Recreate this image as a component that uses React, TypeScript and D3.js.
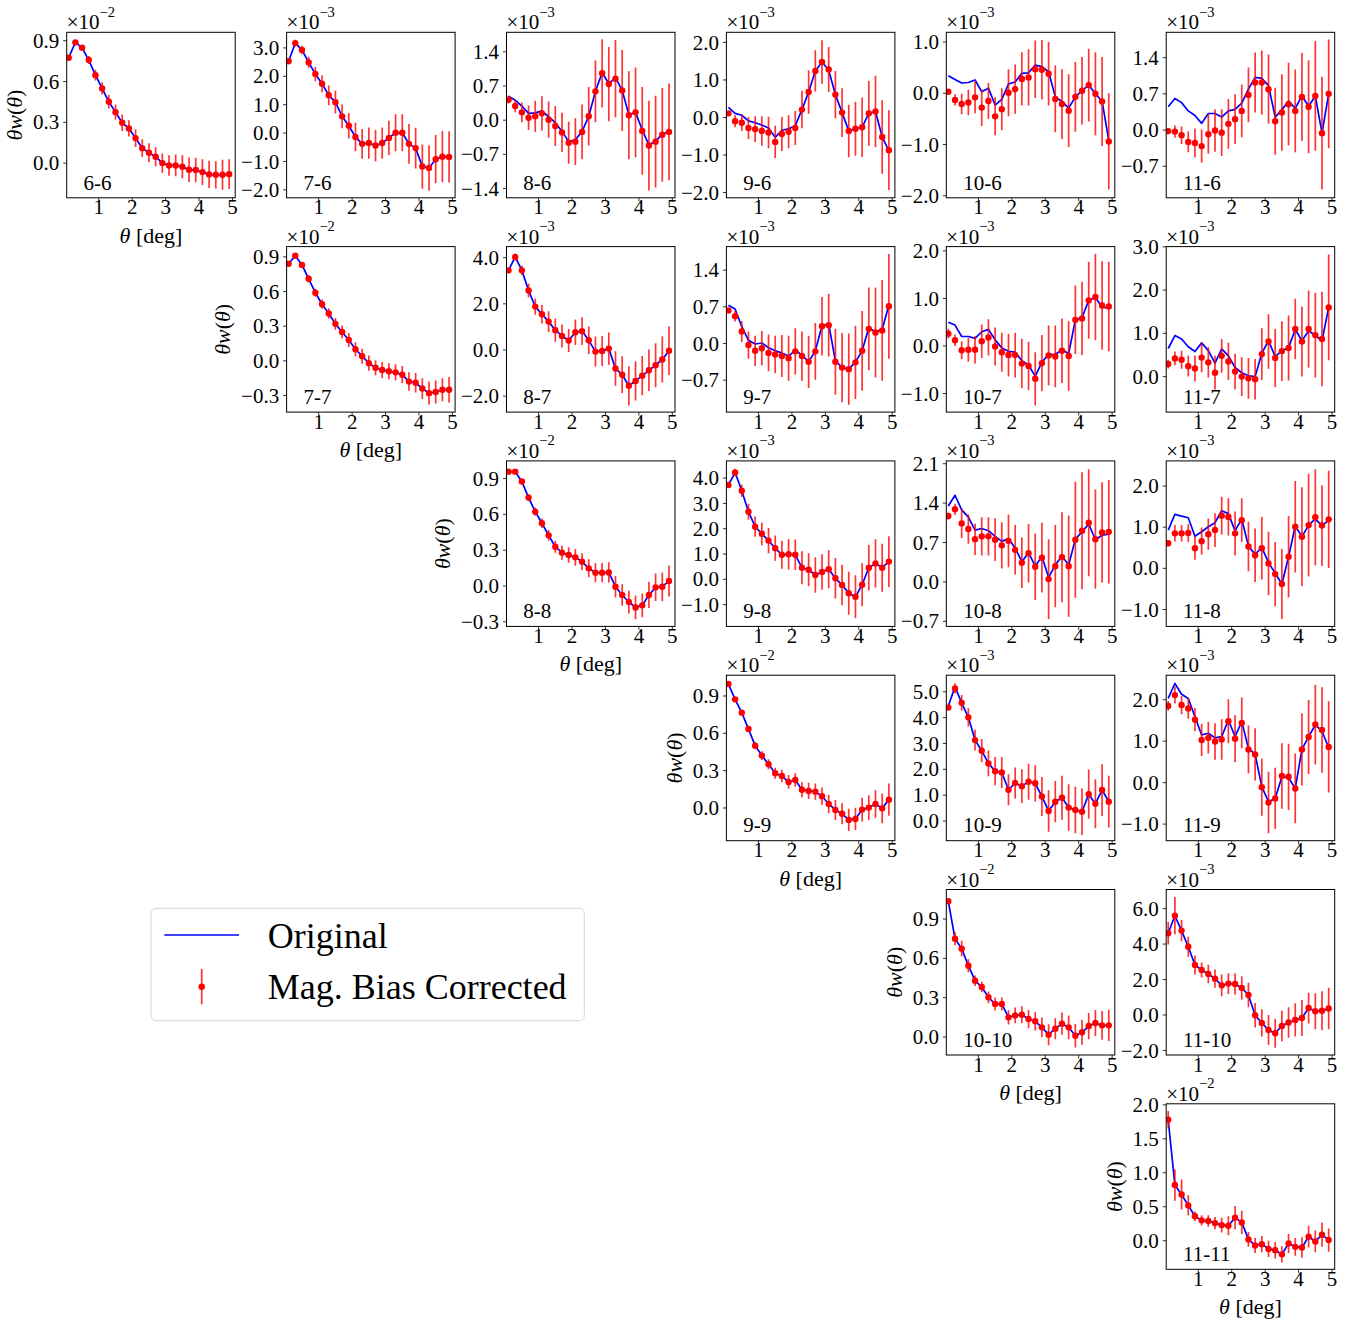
import React from "react";
import * as d3 from "d3";

// ---------- data ----------
const THETA = [0.1, 0.3, 0.5, 0.7, 0.9, 1.1, 1.3, 1.5, 1.7, 1.9, 2.1, 2.3, 2.5, 2.7, 2.9, 3.1, 3.3, 3.5, 3.7, 3.9, 4.1, 4.3, 4.5, 4.7, 4.9];
const X_TICKS = [1, 2, 3, 4, 5];
const BINS = [6, 7, 8, 9, 10, 11];

// values in units of 10^exp
const corr66 = [0.775, 0.888, 0.848, 0.758, 0.647, 0.549, 0.451, 0.375, 0.297, 0.255, 0.184, 0.11, 0.076, 0.047, 0.0, -0.017, -0.017, -0.027, -0.049, -0.051, -0.066, -0.083, -0.086, -0.086, -0.081];
const err66 = [0.01, 0.012, 0.02, 0.03, 0.04, 0.045, 0.05, 0.055, 0.06, 0.06, 0.065, 0.065, 0.07, 0.07, 0.07, 0.075, 0.08, 0.085, 0.09, 0.09, 0.095, 0.1, 0.1, 0.11, 0.11];
const orig66 = corr66;

const corr76 = [2.53, 3.17, 2.93, 2.49, 2.08, 1.74, 1.33, 1.09, 0.59, 0.26, -0.14, -0.38, -0.35, -0.44, -0.35, -0.17, 0.01, 0.01, -0.38, -0.53, -1.18, -1.23, -0.92, -0.83, -0.84];
const err76 = [0.08, 0.12, 0.15, 0.2, 0.25, 0.3, 0.35, 0.4, 0.42, 0.45, 0.5, 0.52, 0.55, 0.55, 0.55, 0.6, 0.65, 0.65, 0.7, 0.72, 0.78, 0.8, 0.85, 0.9, 0.9];
const orig76 = corr76;

const corr86 = [0.42, 0.29, 0.16, 0.05, 0.08, 0.14, 0.01, -0.12, -0.25, -0.46, -0.44, -0.24, 0.08, 0.59, 0.96, 0.74, 0.85, 0.61, 0.1, 0.16, -0.22, -0.52, -0.44, -0.3, -0.24];
const orig86 = [0.49, 0.41, 0.29, 0.14, 0.15, 0.19, 0.07, -0.05, -0.23, -0.44, -0.4, -0.23, 0.08, 0.59, 0.97, 0.75, 0.87, 0.61, 0.11, 0.16, -0.2, -0.51, -0.43, -0.29, -0.23];
const err86 = [0.08, 0.13, 0.2, 0.25, 0.32, 0.35, 0.37, 0.41, 0.4, 0.43, 0.48, 0.56, 0.6, 0.63, 0.7, 0.76, 0.79, 0.83, 0.9, 0.92, 0.9, 0.92, 0.94, 0.96, 0.99];

const corr96 = [0.11, -0.1, -0.14, -0.28, -0.31, -0.36, -0.4, -0.65, -0.44, -0.38, -0.28, 0.21, 0.68, 1.24, 1.48, 1.28, 0.61, 0.13, -0.36, -0.3, -0.26, 0.11, 0.16, -0.52, -0.87];
const orig96 = [0.27, 0.11, 0.06, -0.09, -0.14, -0.2, -0.28, -0.53, -0.34, -0.3, -0.22, 0.21, 0.68, 1.24, 1.48, 1.26, 0.61, 0.13, -0.36, -0.3, -0.26, 0.11, 0.16, -0.52, -0.89];
const err96 = [0.05, 0.16, 0.22, 0.29, 0.34, 0.39, 0.42, 0.43, 0.45, 0.44, 0.45, 0.5, 0.58, 0.55, 0.58, 0.6, 0.63, 0.65, 0.7, 0.72, 0.79, 0.86, 0.95, 0.98, 1.06];

const corr106 = [0.03, -0.13, -0.21, -0.18, -0.08, -0.28, -0.15, -0.45, -0.31, 0.01, 0.08, 0.28, 0.31, 0.47, 0.46, 0.38, -0.11, -0.21, -0.34, -0.07, 0.05, 0.16, -0.01, -0.16, -0.94];
const orig106 = [0.34, 0.27, 0.2, 0.21, 0.26, 0.03, 0.1, -0.23, -0.12, 0.18, 0.22, 0.39, 0.4, 0.55, 0.52, 0.42, -0.07, -0.16, -0.29, -0.07, 0.05, 0.16, -0.01, -0.16, -0.92];
const err106 = [0.04, 0.11, 0.2, 0.25, 0.31, 0.36, 0.35, 0.37, 0.41, 0.46, 0.48, 0.52, 0.55, 0.56, 0.58, 0.62, 0.65, 0.68, 0.71, 0.68, 0.66, 0.71, 0.81, 0.87, 0.94];

const corr116 = [-0.02, -0.03, -0.1, -0.23, -0.25, -0.31, -0.08, -0.01, -0.05, 0.12, 0.21, 0.37, 0.68, 0.92, 0.92, 0.79, 0.17, 0.34, 0.5, 0.37, 0.64, 0.45, 0.66, -0.06, 0.7];
const orig116 = [0.45, 0.61, 0.53, 0.37, 0.28, 0.13, 0.32, 0.32, 0.25, 0.37, 0.4, 0.52, 0.79, 1.02, 1.0, 0.86, 0.25, 0.39, 0.56, 0.42, 0.66, 0.46, 0.66, -0.06, 0.7];
const err116 = [0.06, 0.12, 0.17, 0.2, 0.28, 0.32, 0.38, 0.41, 0.45, 0.48, 0.48, 0.51, 0.53, 0.58, 0.62, 0.67, 0.65, 0.74, 0.8, 0.8, 0.85, 0.9, 1.06, 1.09, 1.05];

const corr77 = [0.84, 0.91, 0.83, 0.71, 0.59, 0.49, 0.41, 0.32, 0.25, 0.18, 0.1, 0.04, -0.02, -0.06, -0.08, -0.09, -0.1, -0.12, -0.18, -0.19, -0.24, -0.28, -0.27, -0.25, -0.25];
const err77 = [0.01, 0.015, 0.02, 0.03, 0.035, 0.04, 0.045, 0.05, 0.055, 0.06, 0.06, 0.065, 0.065, 0.065, 0.07, 0.07, 0.07, 0.075, 0.08, 0.085, 0.09, 0.1, 0.1, 0.1, 0.11];
const orig77 = corr77;

const corr87 = [3.45, 4.03, 3.45, 2.58, 1.88, 1.55, 1.23, 0.86, 0.61, 0.41, 0.77, 0.82, 0.42, -0.07, -0.04, 0.06, -0.8, -1.07, -1.55, -1.34, -1.11, -0.88, -0.66, -0.41, -0.03];
const err87 = [0.1, 0.15, 0.2, 0.3, 0.35, 0.4, 0.45, 0.5, 0.5, 0.5, 0.55, 0.6, 0.6, 0.65, 0.65, 0.7, 0.75, 0.8, 0.85, 0.85, 0.85, 0.9, 0.95, 1.0, 1.05];
const orig87 = corr87;

const corr97 = [0.63, 0.52, 0.23, -0.03, -0.14, -0.09, -0.18, -0.21, -0.24, -0.28, -0.15, -0.24, -0.35, -0.15, 0.33, 0.35, -0.35, -0.46, -0.49, -0.36, -0.14, 0.28, 0.21, 0.25, 0.71];
const orig97 = [0.73, 0.66, 0.32, 0.06, -0.01, 0.01, -0.08, -0.14, -0.18, -0.24, -0.13, -0.22, -0.35, -0.14, 0.34, 0.37, -0.33, -0.46, -0.49, -0.35, -0.14, 0.3, 0.22, 0.27, 0.73];
const err97 = [0.05, 0.1, 0.2, 0.26, 0.29, 0.33, 0.35, 0.36, 0.4, 0.43, 0.44, 0.47, 0.5, 0.54, 0.56, 0.6, 0.63, 0.66, 0.68, 0.7, 0.76, 0.79, 0.86, 0.96, 1.0];

const corr107 = [0.26, 0.12, -0.09, -0.08, -0.08, 0.1, 0.18, -0.01, -0.13, -0.19, -0.19, -0.37, -0.42, -0.69, -0.36, -0.2, -0.22, -0.1, -0.21, 0.55, 0.58, 0.96, 1.03, 0.85, 0.83];
const orig107 = [0.5, 0.44, 0.2, 0.2, 0.16, 0.3, 0.35, 0.13, -0.04, -0.11, -0.13, -0.31, -0.4, -0.64, -0.34, -0.18, -0.18, -0.08, -0.16, 0.55, 0.6, 0.96, 1.02, 0.82, 0.79];
const err107 = [0.1, 0.12, 0.19, 0.25, 0.29, 0.35, 0.38, 0.4, 0.41, 0.45, 0.47, 0.52, 0.51, 0.56, 0.59, 0.63, 0.65, 0.68, 0.73, 0.72, 0.77, 0.81, 0.91, 0.93, 0.94];

const corr117 = [0.29, 0.42, 0.39, 0.24, 0.19, 0.44, 0.33, 0.09, 0.48, 0.35, 0.12, 0.0, -0.04, -0.06, 0.52, 0.81, 0.43, 0.59, 0.66, 1.1, 0.81, 1.1, 0.96, 0.87, 1.6];
const orig117 = [0.65, 0.95, 0.87, 0.69, 0.58, 0.78, 0.6, 0.31, 0.64, 0.48, 0.21, 0.09, 0.02, 0.0, 0.54, 0.83, 0.46, 0.6, 0.67, 1.09, 0.83, 1.06, 0.95, 0.83, 1.6];
const err117 = [0.1, 0.16, 0.21, 0.24, 0.3, 0.34, 0.35, 0.39, 0.39, 0.43, 0.41, 0.45, 0.47, 0.47, 0.6, 0.63, 0.67, 0.69, 0.75, 0.7, 0.81, 0.89, 0.98, 1.09, 1.22];

const corr88 = [0.957, 0.957, 0.874, 0.74, 0.622, 0.525, 0.424, 0.329, 0.279, 0.26, 0.24, 0.204, 0.148, 0.112, 0.112, 0.114, -0.006, -0.075, -0.134, -0.179, -0.162, -0.075, -0.011, -0.006, 0.042];
const err88 = [0.01, 0.015, 0.02, 0.03, 0.035, 0.04, 0.045, 0.05, 0.06, 0.065, 0.07, 0.07, 0.075, 0.08, 0.08, 0.085, 0.09, 0.09, 0.095, 0.1, 0.1, 0.11, 0.115, 0.12, 0.13];
const orig88 = corr88;

const corr98 = [3.73, 4.22, 3.5, 2.67, 2.08, 1.8, 1.53, 1.23, 0.97, 0.99, 0.97, 0.46, 0.38, 0.17, 0.29, 0.4, 0.04, -0.22, -0.55, -0.69, -0.21, 0.46, 0.63, 0.46, 0.7];
const err98 = [0.1, 0.15, 0.25, 0.32, 0.4, 0.45, 0.5, 0.5, 0.55, 0.6, 0.6, 0.65, 0.65, 0.7, 0.7, 0.75, 0.8, 0.8, 0.85, 0.85, 0.85, 0.9, 0.95, 0.95, 1.0];
const orig98 = corr98;

const corr108 = [1.17, 1.29, 1.04, 0.94, 0.76, 0.81, 0.81, 0.75, 0.65, 0.73, 0.57, 0.34, 0.51, 0.27, 0.43, 0.05, 0.28, 0.44, 0.28, 0.75, 0.91, 1.05, 0.76, 0.88, 0.89];
const orig108 = [1.35, 1.54, 1.28, 1.15, 0.92, 0.95, 0.91, 0.81, 0.72, 0.77, 0.6, 0.36, 0.52, 0.28, 0.45, 0.08, 0.3, 0.46, 0.3, 0.76, 0.89, 1.03, 0.75, 0.83, 0.85];
const err108 = [0.06, 0.1, 0.26, 0.26, 0.28, 0.34, 0.34, 0.38, 0.41, 0.47, 0.44, 0.45, 0.52, 0.59, 0.62, 0.71, 0.73, 0.8, 0.9, 1.03, 1.04, 0.95, 0.88, 0.89, 0.92];

const corr118 = [0.61, 0.85, 0.85, 0.86, 0.49, 0.66, 0.83, 0.93, 1.28, 1.25, 0.85, 1.17, 0.53, 0.32, 0.49, 0.12, -0.14, -0.38, 0.28, 1.01, 0.77, 1.05, 1.24, 1.04, 1.19];
const orig118 = [0.93, 1.31, 1.27, 1.23, 0.78, 0.89, 1.01, 1.11, 1.4, 1.33, 0.91, 1.2, 0.54, 0.34, 0.51, 0.14, -0.12, -0.38, 0.28, 1.03, 0.77, 1.05, 1.2, 1.03, 1.17];
const err118 = [0.08, 0.2, 0.2, 0.22, 0.28, 0.33, 0.38, 0.41, 0.46, 0.45, 0.53, 0.53, 0.6, 0.65, 0.76, 0.77, 0.78, 0.85, 0.99, 1.11, 1.2, 1.25, 1.17, 0.98, 1.18];

const corr99 = [0.996, 0.873, 0.766, 0.635, 0.501, 0.421, 0.351, 0.279, 0.257, 0.209, 0.225, 0.147, 0.137, 0.131, 0.094, 0.032, -0.016, -0.046, -0.096, -0.088, -0.013, 0.003, 0.032, -0.003, 0.067];
const err99 = [0.01, 0.015, 0.02, 0.025, 0.03, 0.035, 0.04, 0.045, 0.05, 0.055, 0.055, 0.06, 0.065, 0.065, 0.07, 0.075, 0.08, 0.085, 0.09, 0.09, 0.095, 0.1, 0.11, 0.12, 0.13];
const orig99 = corr99;

const corr109 = [4.39, 5.13, 4.57, 4.01, 3.13, 2.72, 2.23, 1.93, 1.88, 1.21, 1.47, 1.35, 1.52, 1.46, 0.95, 0.39, 0.75, 0.9, 0.52, 0.43, 0.36, 1.04, 0.67, 1.2, 0.75];
const orig109 = [4.45, 5.19, 4.57, 4.01, 3.13, 2.72, 2.23, 1.93, 1.88, 1.21, 1.47, 1.35, 1.52, 1.46, 0.95, 0.39, 0.75, 0.9, 0.52, 0.43, 0.36, 1.04, 0.67, 1.2, 0.75];
const err109 = [0.1, 0.2, 0.3, 0.35, 0.4, 0.45, 0.5, 0.55, 0.6, 0.6, 0.6, 0.65, 0.7, 0.7, 0.75, 0.8, 0.8, 0.85, 0.9, 0.9, 0.9, 0.95, 0.95, 1.0, 1.0];

const corr119 = [1.85, 2.11, 1.87, 1.79, 1.52, 1.03, 1.08, 0.99, 1.04, 1.48, 1.06, 1.44, 0.8, 0.68, -0.11, -0.48, -0.38, 0.16, 0.14, -0.14, 0.8, 1.1, 1.4, 1.27, 0.86];
const orig119 = [2.03, 2.39, 2.13, 2.03, 1.59, 1.15, 1.19, 1.08, 1.11, 1.51, 1.11, 1.47, 0.83, 0.68, -0.1, -0.46, -0.38, 0.14, 0.12, -0.14, 0.8, 1.11, 1.39, 1.24, 0.84];
const err119 = [0.12, 0.2, 0.22, 0.25, 0.28, 0.39, 0.38, 0.44, 0.49, 0.53, 0.57, 0.61, 0.58, 0.63, 0.69, 0.74, 0.74, 0.79, 0.8, 0.84, 0.87, 0.89, 0.96, 1.03, 1.1];

const corr1010 = [1.035, 0.75, 0.674, 0.544, 0.43, 0.381, 0.303, 0.252, 0.252, 0.15, 0.165, 0.17, 0.137, 0.12, 0.074, 0.018, 0.064, 0.102, 0.074, 0.01, 0.036, 0.084, 0.107, 0.089, 0.089];
const err1010 = [0.02, 0.05, 0.06, 0.05, 0.04, 0.04, 0.045, 0.05, 0.05, 0.055, 0.06, 0.065, 0.07, 0.07, 0.075, 0.08, 0.08, 0.085, 0.09, 0.09, 0.095, 0.1, 0.1, 0.11, 0.12];
const orig1010 = corr1010;

const corr1110 = [4.61, 5.6, 4.76, 3.85, 2.82, 2.54, 2.31, 2.05, 1.67, 1.77, 1.75, 1.52, 1.13, -0.02, -0.45, -0.85, -1.03, -0.62, -0.43, -0.28, -0.17, 0.39, 0.21, 0.24, 0.36];
const err1110 = [0.63, 1.05, 0.6, 0.56, 0.53, 0.42, 0.52, 0.52, 0.61, 0.59, 0.61, 0.66, 0.69, 0.69, 0.77, 0.85, 0.82, 0.86, 0.86, 0.94, 1.02, 0.87, 1.02, 1.1, 1.17];
const orig1110 = corr1110;

const corr1111 = [1.78, 0.82, 0.68, 0.52, 0.36, 0.3, 0.29, 0.26, 0.23, 0.22, 0.34, 0.27, 0.02, -0.07, -0.05, -0.12, -0.14, -0.2, -0.04, -0.09, -0.1, 0.06, -0.01, 0.09, 0.01];
const err1111 = [0.13, 0.23, 0.22, 0.15, 0.07, 0.075, 0.085, 0.09, 0.11, 0.14, 0.17, 0.17, 0.11, 0.11, 0.12, 0.12, 0.12, 0.12, 0.14, 0.13, 0.15, 0.16, 0.16, 0.18, 0.17];
const orig1111 = corr1111;

// tick values (in units of 10^exp)
const ticks66 = [0, 0.3, 0.6, 0.9];
const ticks76 = [-2, -1, 0, 1, 2, 3];
const ticks86 = [-1.4, -0.7, 0, 0.7, 1.4];
const ticks96 = [-2, -1, 0, 1, 2];
const ticks106 = [-2, -1, 0, 1];
const ticks116 = [-0.7, 0, 0.7, 1.4];
const ticks77 = [-0.3, 0, 0.3, 0.6, 0.9];
const ticks87 = [-2, 0, 2, 4];
const ticks97 = [-0.7, 0, 0.7, 1.4];
const ticks107 = [-1, 0, 1, 2];
const ticks117 = [0, 1, 2, 3];
const ticks88 = [-0.3, 0, 0.3, 0.6, 0.9];
const ticks98 = [-1, 0, 1, 2, 3, 4];
const ticks108 = [-0.7, 0, 0.7, 1.4, 2.1];
const ticks118 = [-1, 0, 1, 2];
const ticks99 = [0, 0.3, 0.6, 0.9];
const ticks109 = [0, 1, 2, 3, 4, 5];
const ticks119 = [-1, 0, 1, 2];
const ticks1010 = [0, 0.3, 0.6, 0.9];
const ticks1110 = [-2, 0, 2, 4, 6];
const ticks1111 = [0, 0.5, 1, 1.5, 2];

type PanelSpec = {
  i: number; j: number; exp: number;
  orig: number[]; corr: number[]; err: number[];
  ticks: number[]; yDomain: [number, number];
};

const PANELS: PanelSpec[] = [
  { i: 6, j: 6, exp: -2, orig: orig66, corr: corr66, err: err66, ticks: ticks66, yDomain: [-0.255, 0.962] },
  { i: 7, j: 6, exp: -3, orig: orig76, corr: corr76, err: err76, ticks: ticks76, yDomain: [-2.28, 3.55] },
  { i: 8, j: 6, exp: -3, orig: orig86, corr: corr86, err: err86, ticks: ticks86, yDomain: [-1.59, 1.8] },
  { i: 9, j: 6, exp: -3, orig: orig96, corr: corr96, err: err96, ticks: ticks96, yDomain: [-2.14, 2.27] },
  { i: 10, j: 6, exp: -3, orig: orig106, corr: corr106, err: err106, ticks: ticks106, yDomain: [-2.04, 1.19] },
  { i: 11, j: 6, exp: -3, orig: orig116, corr: corr116, err: err116, ticks: ticks116, yDomain: [-1.31, 1.89] },
  { i: 7, j: 7, exp: -2, orig: orig77, corr: corr77, err: err77, ticks: ticks77, yDomain: [-0.444, 0.989] },
  { i: 8, j: 7, exp: -3, orig: orig87, corr: corr87, err: err87, ticks: ticks87, yDomain: [-2.69, 4.48] },
  { i: 9, j: 7, exp: -3, orig: orig97, corr: corr97, err: err97, ticks: ticks97, yDomain: [-1.31, 1.85] },
  { i: 10, j: 7, exp: -3, orig: orig107, corr: corr107, err: err107, ticks: ticks107, yDomain: [-1.39, 2.09] },
  { i: 11, j: 7, exp: -3, orig: orig117, corr: corr117, err: err117, ticks: ticks117, yDomain: [-0.82, 3.005] },
  { i: 8, j: 8, exp: -2, orig: orig88, corr: corr88, err: err88, ticks: ticks88, yDomain: [-0.338, 1.047] },
  { i: 9, j: 8, exp: -3, orig: orig98, corr: corr98, err: err98, ticks: ticks98, yDomain: [-1.86, 4.68] },
  { i: 10, j: 8, exp: -3, orig: orig108, corr: corr108, err: err108, ticks: ticks108, yDomain: [-0.79, 2.15] },
  { i: 11, j: 8, exp: -3, orig: orig118, corr: corr118, err: err118, ticks: ticks118, yDomain: [-1.41, 2.61] },
  { i: 9, j: 9, exp: -2, orig: orig99, corr: corr99, err: err99, ticks: ticks99, yDomain: [-0.263, 1.067] },
  { i: 10, j: 9, exp: -3, orig: orig109, corr: corr109, err: err109, ticks: ticks109, yDomain: [-0.76, 5.64] },
  { i: 11, j: 9, exp: -3, orig: orig119, corr: corr119, err: err119, ticks: ticks119, yDomain: [-1.4, 2.59] },
  { i: 10, j: 10, exp: -2, orig: orig1010, corr: corr1010, err: err1010, ticks: ticks1010, yDomain: [-0.137, 1.125] },
  { i: 11, j: 10, exp: -3, orig: orig1110, corr: corr1110, err: err1110, ticks: ticks1110, yDomain: [-2.26, 7.08] },
  { i: 11, j: 11, exp: -2, orig: orig1111, corr: corr1111, err: err1111, ticks: ticks1111, yDomain: [-0.42, 2.015] },
];

// ---------- layout ----------
const WIDTH = 1363;
const HEIGHT = 1322;
const LEFT0 = 66.7;
const COL_STEP = 219.9;
const TOP0 = 32.3;
const ROW_STEP = 214.3;
const AW = 168.5;
const AH = 165.5;
const X_DOMAIN: [number, number] = [0.04, 5.08];
const FONT = "'Liberation Serif', 'Times New Roman', Times, serif";
const TICK_FS = 21;
const SUP_FS = 14.5;
const LABEL_FS = 22;
const TICK_LEN = 3.5;
const BLUE = "#0000ff";
const RED = "#ff0000";

const fmt = d3.format(".1f");

function labelWidth(s: string, fs: number) {
  let w = 0;
  for (const c of s) {
    if (c === ".") w += 0.25;
    else if (c === "\u2212" || c === "-") w += 0.564;
    else w += 0.5;
  }
  return w * fs;
}

function Panel({ p }: { p: PanelSpec }) {
  const col = p.i - BINS[0];
  const row = p.j - BINS[0];
  const left = LEFT0 + COL_STEP * col;
  const top = TOP0 + ROW_STEP * row;
  const bottom = top + AH;
  const x = d3.scaleLinear().domain(X_DOMAIN).range([left, left + AW]);
  const y = d3.scaleLinear().domain(p.yDomain).range([bottom, top]);
  const line = d3
    .line<number>()
    .x((_, k) => x(THETA[k]))
    .y((d) => y(d));
  const clipId = `clip-${p.i}-${p.j}`;
  const diag = p.i === p.j;
  const tickLabels = p.ticks.map((t) => fmt(t));
  const maxW = Math.max(...tickLabels.map((s) => labelWidth(s, TICK_FS)));
  const ylabX = left - 7.4 - maxW - 11;
  const ylabY = top + AH / 2;

  return (
    <g>
      <defs>
        <clipPath id={clipId}>
          <rect x={left} y={top} width={AW} height={AH} />
        </clipPath>
      </defs>
      <rect x={left} y={top} width={AW} height={AH} fill="#fff" />
      <g clipPath={`url(#${clipId})`}>
        <path d={line(p.orig) || ""} fill="none" stroke={BLUE} strokeWidth={1.7} strokeLinejoin="round" />
        {p.corr.map((v, k) => (
          <line
            key={`e${k}`}
            x1={x(THETA[k])}
            x2={x(THETA[k])}
            y1={y(v - p.err[k])}
            y2={y(v + p.err[k])}
            stroke={RED}
            strokeOpacity={0.8}
            strokeWidth={1.7}
          />
        ))}
        {p.corr.map((v, k) => (
          <circle key={`c${k}`} cx={x(THETA[k])} cy={y(v)} r={3.2} fill={RED} />
        ))}
      </g>
      <rect x={left} y={top} width={AW} height={AH} fill="none" stroke="#000" strokeWidth={1} />
      {/* y ticks */}
      {p.ticks.map((t, k) => (
        <g key={`yt${k}`}>
          <line x1={left - TICK_LEN} x2={left} y1={y(t)} y2={y(t)} stroke="#000" strokeWidth={0.8} />
          <text
            x={left - 7.4}
            y={y(t)}
            dy="0.34em"
            textAnchor="end"
            fontSize={TICK_FS}
            fontFamily={FONT}
          >
            {tickLabels[k]}
          </text>
        </g>
      ))}
      {/* x ticks */}
      {X_TICKS.map((t) => (
        <g key={`xt${t}`}>
          <line x1={x(t)} x2={x(t)} y1={bottom} y2={bottom + TICK_LEN} stroke="#000" strokeWidth={0.8} />
          <text
            x={x(t)}
            y={bottom + 16.5}
            textAnchor="middle"
            fontSize={TICK_FS}
            fontFamily={FONT}
          >
            {t}
          </text>
        </g>
      ))}
      {/* offset text */}
      <text x={left} y={top - 3} fontSize={TICK_FS} fontFamily={FONT}>
        {"\u00d710"}
        <tspan dy={-12.6} fontSize={SUP_FS}>{"\u2212" + String(-p.exp)}</tspan>
      </text>
      {/* panel label */}
      <text x={left + 0.1 * AW} y={bottom - 0.05 * AH} fontSize={TICK_FS} fontFamily={FONT}>
        {`${p.i}-${p.j}`}
      </text>
      {diag && (
        <g>
          <text
            x={left + AW / 2}
            y={bottom + 45}
            textAnchor="middle"
            fontSize={LABEL_FS}
            fontFamily={FONT}
          >
            <tspan fontStyle="italic">θ</tspan>
            {" [deg]"}
          </text>
          <text
            transform={`translate(${ylabX},${ylabY}) rotate(-90)`}
            textAnchor="middle"
            fontSize={LABEL_FS}
            fontFamily={FONT}
          >
            <tspan fontStyle="italic">θw</tspan>
            {"("}
            <tspan fontStyle="italic">θ</tspan>
            {")"}
          </text>
        </g>
      )}
    </g>
  );
}

function Legend() {
  return (
    <g>
      <rect x={151} y={908.3} width={433.3} height={112.4} rx={5} fill="#fff" stroke="#d6d6d6" strokeWidth={1} />
      <line x1={164.3} x2={239} y1={935} y2={935} stroke={BLUE} strokeWidth={1.7} />
      <line x1={201.7} x2={201.7} y1={969} y2={1004.3} stroke={RED} strokeOpacity={0.8} strokeWidth={1.7} />
      <circle cx={201.7} cy={986.7} r={3.2} fill={RED} />
      <text x={267.7} y={948} fontSize={36} fontFamily={FONT}>Original</text>
      <text x={267.7} y={999} fontSize={36} fontFamily={FONT}>Mag. Bias Corrected</text>
    </g>
  );
}

export default function App() {
  return (
    <svg
      width={WIDTH}
      height={HEIGHT}
      viewBox={`0 0 ${WIDTH} ${HEIGHT}`}
      style={{ position: "absolute", left: 0, top: 0, background: "#fff" }}
    >
      <rect x={0} y={0} width={WIDTH} height={HEIGHT} fill="#fff" />
      {PANELS.map((p) => (
        <Panel key={`${p.i}-${p.j}`} p={p} />
      ))}
      <Legend />
    </svg>
  );
}
